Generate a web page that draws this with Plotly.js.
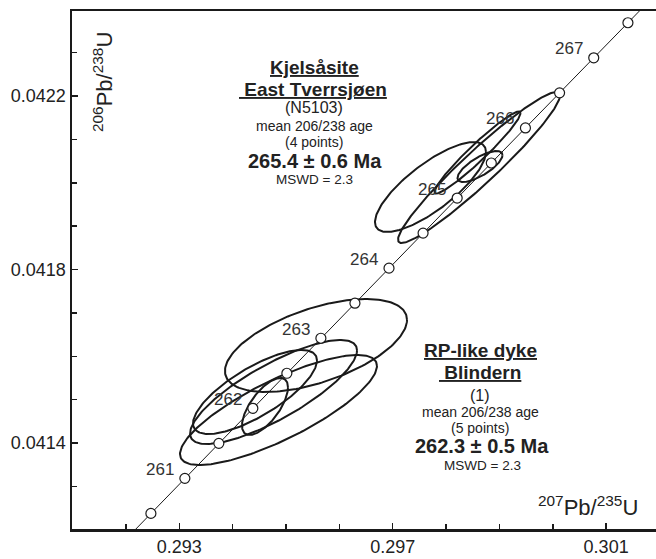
<!DOCTYPE html>
<html>
<head>
<meta charset="utf-8">
<script src="https://cdn.plot.ly/plotly-3.0.1.min.js"></script>
<style>html,body{margin:0;padding:0;background:#fff;}#chart{width:656px;height:559px;}</style>
</head>
<body>
<div id="chart"></div>
<script>
// Concordia ages (Ma) for markers and labelled ages
const concordiaAges = [259.5, 260, 260.5, 261, 261.5, 262, 262.5, 263, 263.5, 264, 264.5, 265, 265.5, 266, 266.5, 267, 267.5, 268, 268.5];
const labelAges = [261, 262, 263, 264, 265, 266, 267];
const labelText = ['261', '262', '263', '264', '265', '266', '267'];

// Error ellipses: centre 207Pb/235U, centre 206Pb/238U, half-widths, correlation
const ellX   = [0.297708, 0.298590, 0.298636, 0.298618, 0.295562, 0.294859, 0.294766, 0.294419, 0.294606];
const ellY   = [0.0419902, 0.0420697, 0.0420375, 0.0420352, 0.0416248, 0.0414761, 0.0415176, 0.0415176, 0.0414842];
const ellXerr = [0.001040, 0.000806, 0.000422, 0.001518, 0.001706, 0.001846, 0.001565, 0.001162, 0.000431];
const ellYerr = [0.0001037, 0.0000945, 0.0000357, 0.0001741, 0.0001072, 0.0001268, 0.0001199, 0.0000968, 0.0000657];
const ellRho  = [0.78, 0.96, 0.74, 0.955, 0.55, 0.80, 0.80, 0.75, 0.67];

// Tick labels
const xTickVals = [0.293, 0.297, 0.301];
const xTickText = ['0.293', '0.297', '0.301'];
const yTickVals = [0.0414, 0.0418, 0.0422];
const yTickText = ['0.0414', '0.0418', '0.0422'];

const LAMBDA238 = 1.55125e-10, LAMBDA235 = 9.8485e-10;
function concX(t){ return Math.expm1(LAMBDA235 * t * 1e6); }
function concY(t){ return Math.expm1(LAMBDA238 * t * 1e6); }

const INK = '#1a1a1a';
const FONT = '"Liberation Sans", Arial, sans-serif';
const traces = [];

for (let k = 0; k < ellX.length; k++) {
  const xs = [], ys = [];
  const s = Math.sqrt(1 - ellRho[k] * ellRho[k]);
  for (let i = 0; i <= 200; i++) {
    const th = 2 * Math.PI * i / 200;
    xs.push(ellX[k] + ellXerr[k] * Math.cos(th));
    ys.push(ellY[k] + ellYerr[k] * (ellRho[k] * Math.cos(th) + s * Math.sin(th)));
  }
  traces.push({x: xs, y: ys, type: 'scatter', mode: 'lines', line: {color: INK, width: 2}, hoverinfo: 'skip', showlegend: false});
}

traces.push({
  x: concordiaAges.map(concX), y: concordiaAges.map(concY),
  type: 'scatter', mode: 'lines+markers',
  line: {color: INK, width: 1},
  marker: {symbol: 'circle', size: 10, color: '#fff', line: {color: INK, width: 1.2}},
  showlegend: false, hoverinfo: 'skip', cliponaxis: true
});

const annotations = labelAges.map((t, i) => ({
  x: concX(t), y: concY(t), xref: 'x', yref: 'y', text: labelText[i], showarrow: false,
  xshift: -25, yshift: 9, font: {family: FONT, size: 17, color: '#333'}
}));

function px2paperX(px){ return (px - 72) / 584; }
function px2paperY(py){ return (529 - py) / 518; }
function txt(text, cx, cy, size){
  annotations.push({xref: 'paper', yref: 'paper', x: px2paperX(cx), y: px2paperY(cy), xanchor: 'center', yanchor: 'middle',
    text: text, showarrow: false, font: {family: FONT, size: size, color: '#222'}});
}
// upper block
txt('<b><u>Kjelsåsite</u></b>', 314, 67, 19);
txt('<b><u>\u00a0East Tverrsjøen</u></b>', 313, 89, 19);
txt('(N5103)', 314, 108, 16);
txt('mean 206/238 age', 314, 126, 14);
txt('(4 points)', 314, 142, 14);
txt('<b>265.4 ± 0.6 Ma</b>', 315, 161, 20);
txt('MSWD = 2.3', 314, 179, 13.5);
// lower block
txt('<b><u>RP-like dyke</u></b>', 480, 350, 19);
txt('<b><u>\u00a0Blindern</u></b>', 480, 372, 19);
txt('(1)', 480, 395, 16);
txt('mean 206/238 age', 480, 412, 14);
txt('(5 points)', 480, 428, 14);
txt('<b>262.3 ± 0.5 Ma</b>', 482, 446, 20);
txt('MSWD = 2.3', 482, 465, 13.5);

// axis titles
annotations.push({xref: 'paper', yref: 'paper', x: px2paperX(103), y: px2paperY(82), xanchor: 'center', yanchor: 'middle',
  text: '<sup>206</sup>Pb/<sup>238</sup>U', textangle: -90, showarrow: false, font: {family: FONT, size: 22, color: '#222'}});
annotations.push({xref: 'paper', yref: 'paper', x: px2paperX(588), y: px2paperY(506), xanchor: 'center', yanchor: 'middle',
  text: '<sup>207</sup>Pb/<sup>235</sup>U', showarrow: false, font: {family: FONT, size: 22, color: '#222'}});

const layout = {
  width: 656, height: 559,
  margin: {l: 72, r: 0, t: 11, b: 30, pad: 0},
  paper_bgcolor: '#fff', plot_bgcolor: '#fff',
  showlegend: false,
  font: {family: FONT, color: '#222'},
  xaxis: {
    range: [0.290989, 0.301935], tickvals: xTickVals, ticktext: xTickText,
    ticks: 'inside', ticklen: 6, tickwidth: 1.5, tickcolor: INK,
    showline: true, linewidth: 2.5, linecolor: INK, mirror: true,
    showgrid: false, zeroline: false,
    minor: {tick0: 0.293, dtick: 0.001, ticks: 'inside', ticklen: 5, tickwidth: 1.5, tickcolor: INK, showgrid: false},
    tickfont: {family: FONT, size: 18, color: '#222'}
  },
  yaxis: {
    range: [0.0412017, 0.042396], tickvals: yTickVals, ticktext: yTickText,
    ticks: 'inside', ticklen: 6, tickwidth: 1.5, tickcolor: INK,
    showline: true, linewidth: 2.5, linecolor: INK,
    showgrid: false, zeroline: false,
    minor: {tick0: 0.0414, dtick: 0.0001, ticks: 'inside', ticklen: 5, tickwidth: 1.5, tickcolor: INK, showgrid: false},
    tickfont: {family: FONT, size: 18, color: '#222'}
  },
  annotations: annotations
};

Plotly.newPlot('chart', traces, layout, {displayModeBar: false, staticPlot: true});
</script>
</body>
</html>
